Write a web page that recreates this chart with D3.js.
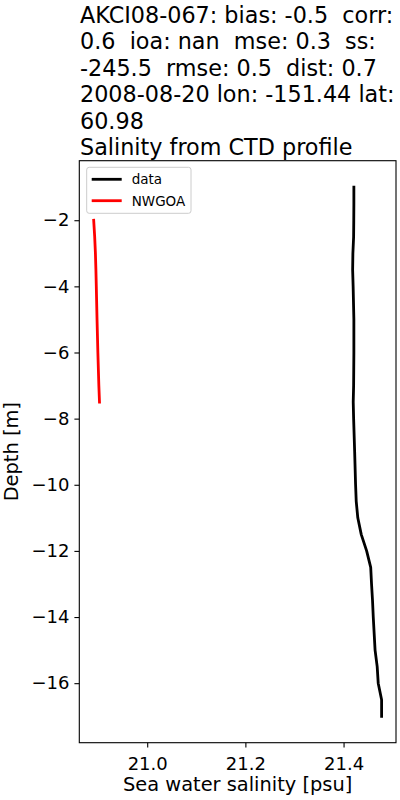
<!DOCTYPE html>
<html>
<head>
<meta charset="utf-8">
<script src="https://cdn.jsdelivr.net/npm/d3@7"></script>
<style>
  body { margin: 0; background: #fff; }
  text { font-family: "DejaVu Sans", sans-serif; fill: #000; }
</style>
</head>
<body>
<svg id="chart" width="400" height="800"></svg>
<script>
// title lines (wrapped like the original)
const titleLines = [
    "AKCI08-067: bias: -0.5  corr:",
    "0.6  ioa: nan  mse: 0.3  ss:",
    "-245.5  rmse: 0.5  dist: 0.7",
    "2008-08-20 lon: -151.44 lat:",
    "60.98",
    "Salinity from CTD profile"
];

// CTD profile (data)
const dataDepth = [-1, -1.5, -2, -2.5, -3, -3.5, -4, -5, -6, -7, -7.5, -8, -9, -10, -10.5, -11, -11.5, -12, -12.5, -13, -13.5, -14, -15, -15.5, -16, -16.5, -17];
const dataSal = [21.421, 21.421, 21.4208, 21.4205, 21.419, 21.4185, 21.4195, 21.421, 21.421, 21.4205, 21.4197, 21.4205, 21.4226, 21.4245, 21.4258, 21.429, 21.436, 21.447, 21.4553, 21.457, 21.459, 21.4605, 21.4642, 21.4685, 21.4706, 21.4775, 21.4775];

// model (NWGOA)
const modelDepth = [-2, -2.5, -3, -3.5, -4, -5, -6, -7, -7.5];
const modelSal = [20.891, 20.893, 20.8945, 20.8955, 20.8963, 20.8978, 20.8995, 20.9015, 20.9028];

const xTicks = [21.0, 21.2, 21.4];
const yTicks = [-2, -4, -6, -8, -10, -12, -14, -16];

const series = [
    { name: "data", color: "#000000", depth: dataDepth, sal: dataSal },
    { name: "NWGOA", color: "#ff0000", depth: modelDepth, sal: modelSal }
];

var svg = d3.select("#chart");
svg.append("rect").attr("width", 400).attr("height", 800).attr("fill", "#fff");

var m = { left: 79.3, right: 396, top: 160.7, bottom: 742.7 };

// matplotlib style 5% padding
function padded(ext) {
    var p = (ext[1] - ext[0]) * 0.05;
    return [ext[0] - p, ext[1] + p];
}
var allSal = dataSal.concat(modelSal);
var allDepth = dataDepth.concat(modelDepth);

var x = d3.scaleLinear().domain(padded(d3.extent(allSal))).range([m.left, m.right]);
var y = d3.scaleLinear().domain(padded(d3.extent(allDepth))).range([m.bottom, m.top]);

// lines
var line = d3.line()
    .x(function(d) { return x(d[0]); })
    .y(function(d) { return y(d[1]); });

svg.append("g").selectAll("path")
    .data(series)
    .enter().append("path")
    .attr("d", function(s) { return line(d3.zip(s.sal, s.depth)); })
    .attr("fill", "none")
    .attr("stroke", function(s) { return s.color; })
    .attr("stroke-width", 2.8)
    .attr("stroke-linecap", "square")
    .attr("stroke-linejoin", "round");

// axes
var xAxis = svg.append("g")
    .attr("transform", "translate(0," + m.bottom + ")")
    .call(d3.axisBottom(x).tickValues(xTicks).tickFormat(d3.format(".1f")).tickSize(4.9).tickPadding(5));
var yAxis = svg.append("g")
    .attr("transform", "translate(" + m.left + ",0)")
    .call(d3.axisLeft(y).tickValues(yTicks).tickFormat(function(d) { return String(d).replace("-", "\u2212"); }).tickSize(4.9).tickPadding(5));

[xAxis, yAxis].forEach(function(a) {
    a.select(".domain").remove();
    a.selectAll("line").attr("stroke", "#000").attr("stroke-width", 1.1);
    a.selectAll("text").attr("font-size", 18).attr("font-family", "DejaVu Sans");
});
xAxis.selectAll("text").attr("dy", "0.95em");

// frame
svg.append("rect")
    .attr("x", m.left).attr("y", m.top)
    .attr("width", m.right - m.left).attr("height", m.bottom - m.top)
    .attr("fill", "none").attr("stroke", "#000").attr("stroke-width", 1.1);

// axis labels
svg.append("text")
    .attr("x", (m.left + m.right) / 2).attr("y", 790.5)
    .attr("text-anchor", "middle").attr("font-size", 19.4)
    .text("Sea water salinity [psu]");
svg.append("text")
    .attr("transform", "translate(17.5," + ((m.top + m.bottom) / 2) + ") rotate(-90)")
    .attr("text-anchor", "middle").attr("font-size", 19.4)
    .text("Depth [m]");

// title
svg.append("g").selectAll("text")
    .data(titleLines)
    .enter().append("text")
    .attr("x", 80)
    .attr("y", function(d, i) { return 22.5 + i * 26.5; })
    .attr("font-size", 22.3)
    .attr("xml:space", "preserve")
    .style("white-space", "pre")
    .text(function(d) { return d; });

// legend
var lg = svg.append("g").attr("transform", "translate(86.7,167.3)");
lg.append("rect")
    .attr("width", 104.3).attr("height", 46).attr("rx", 2.5)
    .attr("fill", "#fff").attr("fill-opacity", 0.8)
    .attr("stroke", "#cccccc").attr("stroke-width", 1);
var item = lg.selectAll("g.item")
    .data(series)
    .enter().append("g")
    .attr("class", "item")
    .attr("transform", function(d, i) { return "translate(0," + (12 + i * 21.4) + ")"; });
item.append("line")
    .attr("x1", 5).attr("x2", 35)
    .attr("stroke", function(d) { return d.color; })
    .attr("stroke-width", 2.8);
item.append("text")
    .attr("x", 45).attr("y", 4.8)
    .attr("font-size", 13.5)
    .text(function(d) { return d.name; });
</script>
</body>
</html>
